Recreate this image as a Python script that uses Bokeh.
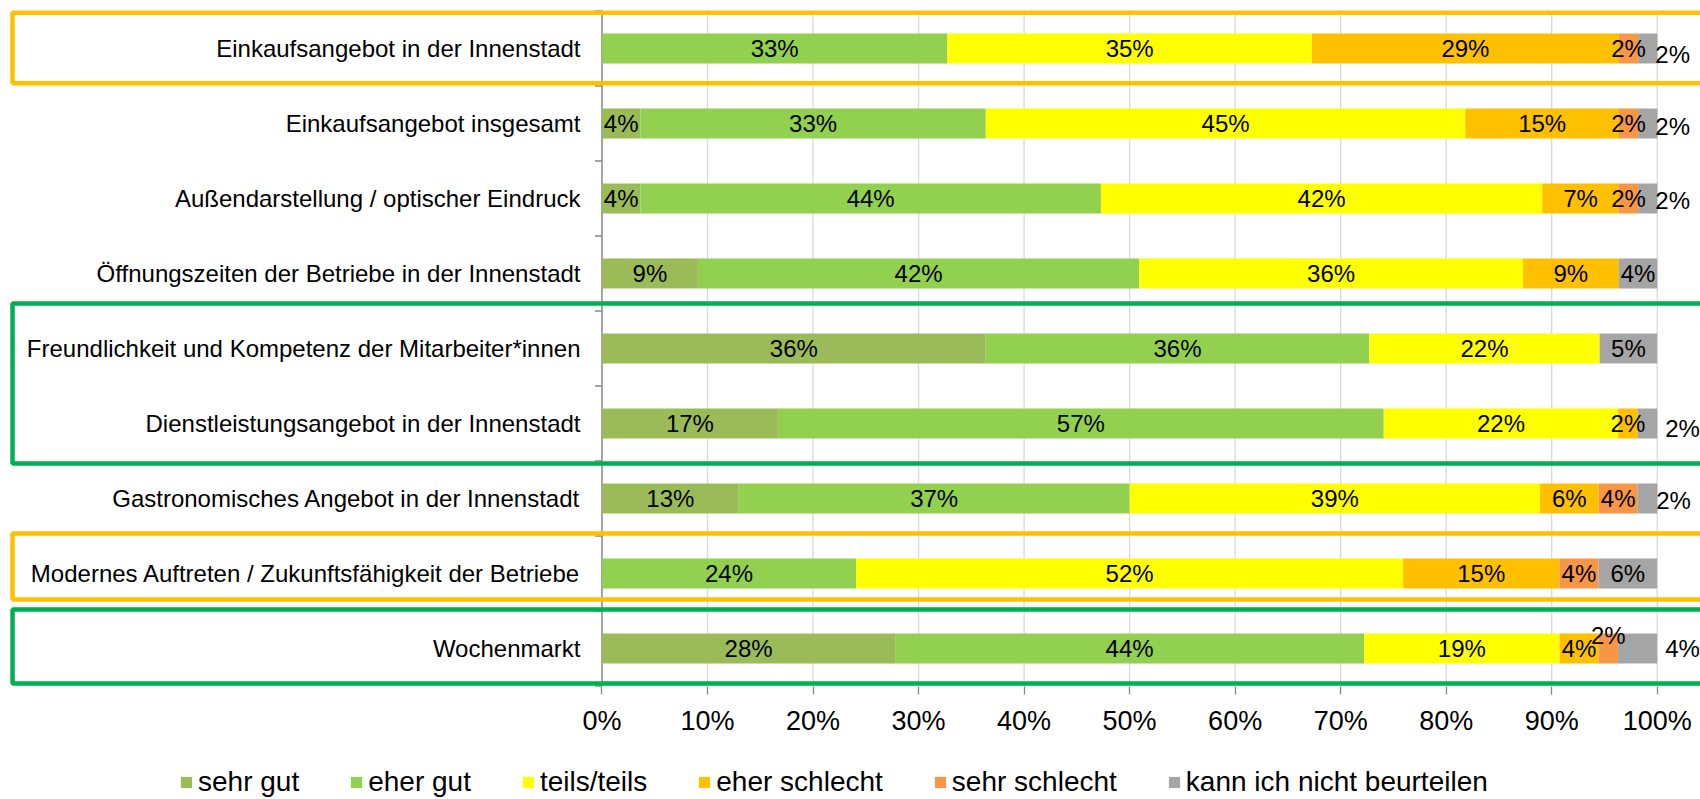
from bokeh.plotting import figure
from bokeh.models import ColumnDataSource, Range1d, FixedTicker, Legend, LegendItem
from bokeh.core.properties import value
from bokeh.embed import file_html
from bokeh.resources import INLINE

# ---------------- data ----------------
categories = [
    "Einkaufsangebot in der Innenstadt",
    "Einkaufsangebot insgesamt",
    "Außendarstellung / optischer Eindruck",
    "Öffnungszeiten der Betriebe in der Innenstadt",
    "Freundlichkeit und Kompetenz der Mitarbeiter*innen",
    "Dienstleistungsangebot in der Innenstadt",
    "Gastronomisches Angebot in der Innenstadt",
    "Modernes Auftreten / Zukunftsfähigkeit der Betriebe",
    "Wochenmarkt",
]
series_names = ["sehr gut", "eher gut", "teils/teils", "eher schlecht",
                "sehr schlecht", "kann ich nicht beurteilen"]

sehr_gut      = [0.00, 3.64, 3.64, 9.09, 36.36, 16.67, 12.96, 0.00, 27.78]
eher_gut      = [32.73, 32.73, 43.64, 41.82, 36.36, 57.41, 37.04, 24.07, 44.44]
teils_teils   = [34.55, 45.45, 41.82, 36.36, 21.82, 22.22, 38.89, 51.85, 18.52]
eher_schlecht = [29.09, 14.55, 7.27, 9.09, 0.00, 1.85, 5.56, 14.81, 3.70]
sehr_schlecht = [1.82, 1.82, 1.82, 0.00, 0.00, 0.00, 3.70, 3.70, 1.85]
kann_nicht    = [1.82, 1.82, 1.82, 3.64, 5.45, 1.85, 1.85, 5.56, 3.70]

x_ticks = [0, 10, 20, 30, 40, 50, 60, 70, 80, 90, 100]
x_tick_labels = ["0%", "10%", "20%", "30%", "40%", "50%", "60%", "70%", "80%", "90%", "100%"]

# highlight frames: (first row, colour)
highlight_rows = [(0, "#FFC000"), (4, "#00B050"), (7, "#FFC000"), (8, "#00B050")]

# ---------------- styles ----------------
series_colors = ["#9BBB59", "#92D050", "#FFFF00", "#FFC000", "#F79646", "#A5A5A5"]
FONT = "Liberation Sans"
box_edges = {0: (-0.476, 0.463), 4: (3.40, 5.533), 7: (6.467, 7.347), 8: (7.48, 8.467)}
# rows whose last label sits outside the bar: (dx px, dy px)
outside_nudge = {0: (-2, 6), 1: (-2, 3), 2: (-2, 2), 5: (8, 5), 6: (-1, 2), 8: (8, 0)}
label_lift = {(8, 4): -13}

series_values = [sehr_gut, eher_gut, teils_teils, eher_schlecht, sehr_schlecht, kann_nicht]
rows = list(range(len(categories)))
keys = [f"s{i}" for i in range(len(series_names))]

src = {"row": rows}
for k, v in zip(keys, series_values):
    src[k] = v
source = ColumnDataSource(src)

Y_TOP = -0.64
Y_BOTTOM = Y_TOP + 799 / 75.0
p = figure(width=1700, height=799, output_backend="svg", toolbar_location=None,
           x_range=Range1d(-57.0, 104.1), y_range=Range1d(Y_BOTTOM, Y_TOP),
           y_axis_location=None, x_axis_location="below",
           min_border_left=0, min_border_right=0, min_border_top=0, min_border_bottom=0)
p.outline_line_color = None
p.xgrid.visible = False
p.ygrid.visible = False
p.background_fill_color = "white"
p.border_fill_color = "white"

n_rows = len(rows)
# vertical gridlines
p.segment(x0=x_ticks[1:], x1=x_ticks[1:], y0=[-0.5] * 10, y1=[n_rows - 0.5] * 10,
          line_color="#D9D9D9", line_width=1.3)
# category axis line and ticks
p.segment(x0=[0], x1=[0], y0=[-0.5], y1=[n_rows - 0.5], line_color="#868686", line_width=1.5)
bounds = [r + 0.5 for r in [-1] + rows]
p.ray(x=[0] * len(bounds), y=bounds, length=7, length_units="screen", angle=3.14159265,
      line_color="#868686", line_width=1.5)

renderers = p.hbar_stack(keys, y="row", height=0.4, color=series_colors,
                         source=source, line_color=None)

# data labels
cx, cy, ct, cdy = [], [], [], []
ox, oy, ot, odx, ody = [], [], [], [], []
for r in rows:
    left = 0.0
    for s, vals in enumerate(series_values):
        v = vals[r]
        if v > 0:
            txt = f"{int(v + 0.5)}%"
            if s == len(series_values) - 1 and r in outside_nudge:
                dx, dy = outside_nudge[r]
                ox.append(left + v); oy.append(r); ot.append(txt); odx.append(dx); ody.append(dy)
            else:
                cx.append(left + v / 2); cy.append(r); ct.append(txt)
                cdy.append(label_lift.get((r, s), 0))
        left += v

p.text(x="x", y="y", text="t", y_offset="dy",
       source=ColumnDataSource(dict(x=cx, y=cy, t=ct, dy=cdy)),
       text_align="center", text_baseline="middle", text_font=value(FONT),
       text_font_size="24px", text_color="black")
p.text(x="x", y="y", text="t", x_offset="dx", y_offset="dy",
       source=ColumnDataSource(dict(x=ox, y=oy, t=ot, dx=odx, dy=ody)),
       text_align="left", text_baseline="middle", text_font=value(FONT),
       text_font_size="24px", text_color="black")

# category labels
p.text(x=[0] * n_rows, y=rows, text=categories, x_offset=-21.5,
       text_align="right", text_baseline="middle", text_font=value(FONT),
       text_font_size="24px", text_color="black")

# highlight frames
bl, br, bt, bb, bc = [], [], [], [], []
for r0, c in highlight_rows:
    t, b = box_edges[r0]
    bl.append(-55.86); br.append(106); bt.append(t); bb.append(b); bc.append(c)
p.quad(left=bl, right=br, top=bt, bottom=bb, fill_color=None, line_color=bc, line_width=4.5)

# x axis drawn at the bottom of the category area
ax = p.xaxis[0]
ax.fixed_location = n_rows - 0.5
ax.ticker = FixedTicker(ticks=x_ticks)
ax.major_label_overrides = {t: l for t, l in zip(x_ticks, x_tick_labels)}
ax.axis_line_color = None
ax.major_tick_line_color = "#868686"
ax.major_tick_line_width = 1.3
ax.major_tick_out = 8
ax.major_tick_in = 0
ax.minor_tick_line_color = None
ax.major_label_text_font = FONT
ax.major_label_text_font_size = "27px"
ax.major_label_text_color = "black"
ax.major_label_standoff = 12

legend = Legend(items=[LegendItem(label=n, renderers=[r]) for n, r in zip(series_names, renderers)],
                orientation="horizontal", location=(179, 1), glyph_width=14, glyph_height=14,
                label_standoff=5, spacing=50, padding=0, margin=0,
                border_line_color=None, background_fill_alpha=0,
                label_text_font=FONT, label_text_font_size="28px", label_text_color="black")
p.add_layout(legend, "center")

open("out.html", "w").write(file_html(p, INLINE))
